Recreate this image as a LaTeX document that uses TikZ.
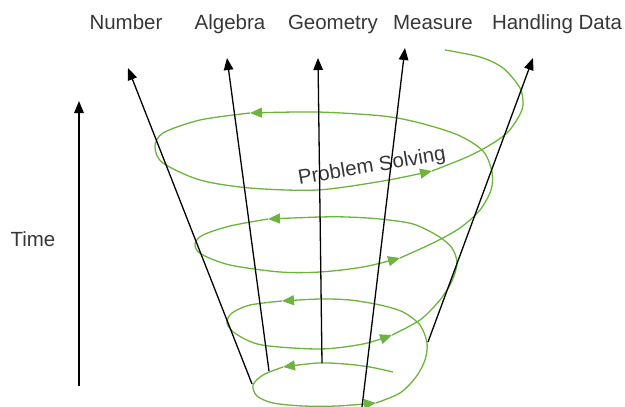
\documentclass[tikz,border=0pt]{standalone}
\usepackage{fontspec}
\setmainfont{Liberation Sans}
\usetikzlibrary{arrows.meta}
\definecolor{spiralgreen}{RGB}{108,180,62}
\definecolor{labelgrey}{RGB}{55,55,55}

\begin{document}
\begin{tikzpicture}[x=1pt, y=-1pt,
            % ----- Styles -----
                lbl/.style={font=\fontsize{20.5}{24}\selectfont, text=labelgrey,
                    inner sep=0pt, anchor=base},
                strand/.style={draw=black, line width=1.3pt,
                    -{Triangle[length=12pt, width=9.5pt]}},
                turn/.style={draw=spiralgreen, line width=1.3pt,
                    -{Triangle[length=12pt, width=10pt]}},
                turnend/.style={draw=spiralgreen, line width=1.3pt}
            ]

                \useasboundingbox (0,0) rectangle (625,407);

% ===================== Beschriftungen ==========================
                \node[lbl] (number)   at (126, 29)  {Number};
                \node[lbl] (algebra)  at (230, 29)  {Algebra};
                \node[lbl] (geometry) at (333, 29)  {Geometry};
                \node[lbl] (measure)  at (433, 29)  {Measure};
                \node[lbl] (handling) at (557, 29)  {Handling Data};
                \node[lbl] (time)     at (33, 246)  {Time};

% ===================== Spirale (Problem Solving) ===============
%
%  Von unten (innen) nach oben (aussen), jede halbe Windung
%  endet an einer Pfeilspitze.
%
                \draw[turn] plot[smooth] coordinates
                    {(393,372) (370,367) (345,364) (318,363) (283,367)};
                \draw[turn] plot[smooth] coordinates
                    {(283,367) (263,375) (253,385) (257,396) (273,403)
                     (303,406) (337,406) (376,403)};
                \draw[turn] plot[smooth] coordinates
                    {(376,403) (400,393) (416,377) (425,360) (427,343)
                     (420,325) (403,312) (380,305) (350,300) (320,299) (282,301)};
                \draw[turn] plot[smooth] coordinates
                    {(282,301) (250,305) (232,313) (227,323) (236,334)
                     (262,345) (320,349) (363,344) (392,335)};
                \draw[turn] plot[smooth] coordinates
                    {(392,335) (420,320) (440,300) (452,281) (457,263)
                     (452,248) (438,236) (413,224) (380,219) (347,217)
                     (320,217) (268,219)};
                \draw[turn] plot[smooth] coordinates
                    {(268,219) (230,226) (203,235) (195,244) (201,254)
                     (230,265) (280,272) (320,272) (363,267) (400,258)};
                \draw[turn] plot[smooth] coordinates
                    {(400,258) (433,243) (460,228) (480,210) (491,190)
                     (492,172) (483,151) (458,135) (420,123) (383,116)
                     (317,112) (250,113)};
                \draw[turn] plot[smooth] coordinates
                    {(250,113) (200,120) (163,133) (155,147) (163,163)
                     (200,180) (250,188) (317,190) (383,181) (432,171)};
                \draw[turnend] plot[smooth] coordinates
                    {(432,171) (467,157) (490,145) (507,133) (518,118)
                     (523,105) (520,88) (503,68) (480,57) (445,50)};

                \node[lbl, anchor=center, rotate=9.5] (solving) at (372, 167)
                    {Problem Solving};

% ===================== Pfeile der Bereiche =====================
                \coordinate (timeFoot)     at (79, 386);
                \coordinate (timeTop)      at (79, 101);
                \coordinate (numberFoot)   at (252, 384);
                \coordinate (numberTop)    at (128, 68);
                \coordinate (algebraFoot)  at (269, 371);
                \coordinate (algebraTop)   at (227, 58);
                \coordinate (geometryFoot) at (322, 363);
                \coordinate (geometryTop)  at (318, 58);
                \coordinate (measureFoot)  at (362, 407);
                \coordinate (measureTop)   at (405, 48);
                \coordinate (handlingFoot) at (428, 342);
                \coordinate (handlingTop)  at (533, 58);

                \draw[strand] (timeFoot)     -- (timeTop);
                \draw[strand] (numberFoot)   -- (numberTop);
                \draw[strand] (algebraFoot)  -- (algebraTop);
                \draw[strand] (geometryFoot) -- (geometryTop);
                \draw[strand] (measureFoot)  -- (measureTop);
                \draw[strand] (handlingFoot) -- (handlingTop);

            \end{tikzpicture}
\end{document}
